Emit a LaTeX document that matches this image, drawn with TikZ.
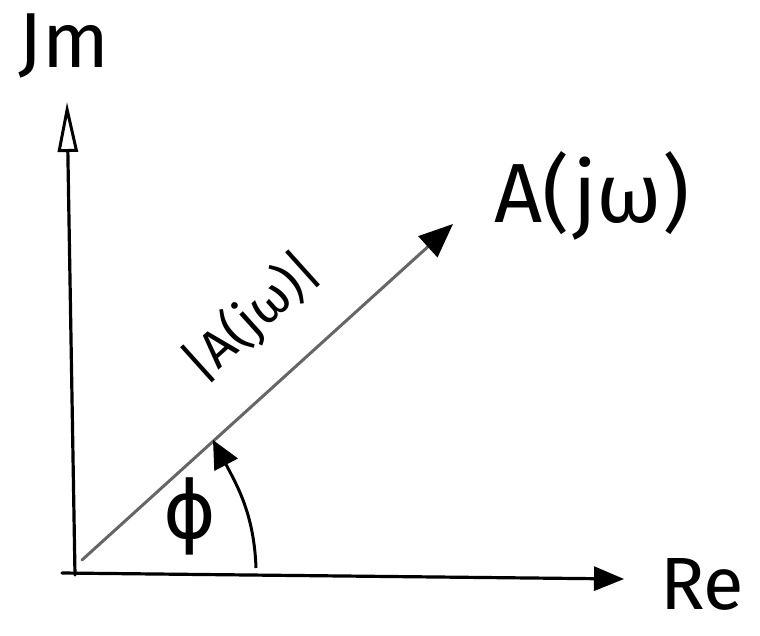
\documentclass[tikz,border=0pt]{standalone}
\usepackage{fontspec}
\setmainfont{Fira Sans}
\newfontfamily\symfont{DejaVu Sans}
\usetikzlibrary{arrows.meta}
\begin{document}
\begin{tikzpicture}[x=1pt,y=-1pt,
  axis/.style={line width=3.2pt,line cap=round,-{Triangle[length=30pt,width=24pt]}},
  vec/.style={line width=3pt,draw=black!60,line cap=round,-{Triangle[length=34pt,width=28pt,fill=black,color=black]}},
  anglearc/.style={line width=3pt,-{Triangle[length=28pt,width=26pt]}},
  lbl/.style={inner sep=0pt,font=\fontsize{#1}{#1}\selectfont}]
\useasboundingbox (0,0) rectangle (760,635);
% axes
\coordinate (xstart) at (62,573);
\coordinate (xend) at (624,579);
\coordinate (ystart) at (75,575);
\coordinate (yend) at (67,102);
\draw[axis] (xstart) -- (xend);
\draw[axis,-{Triangle[length=50pt,width=20pt,open,line width=3pt]}] (ystart) -- (yend);
% vector
\coordinate (vstart) at (82,560);
\coordinate (vend) at (453,224);
\draw[vec] (vstart) -- (vend);
% angle arc
\coordinate (arcstart) at (256,568);
\coordinate (arcend) at (213,440);
\draw[anglearc] (arcstart) to[out=92,in=-62] (arcend);
% labels
\node[lbl=84] (A) at (592,196) {A(jω)};
\node[lbl=74] (Re) at (702,584) {Re};
\node[lbl=78] (Im) at (64,46) {Jm};
\node[lbl=52,rotate=42] (mag) at (252,318) {|A(jω)|};
\node[lbl=80] (phi) at (190,516) {\symfont ϕ};
\end{tikzpicture}
\end{document}
